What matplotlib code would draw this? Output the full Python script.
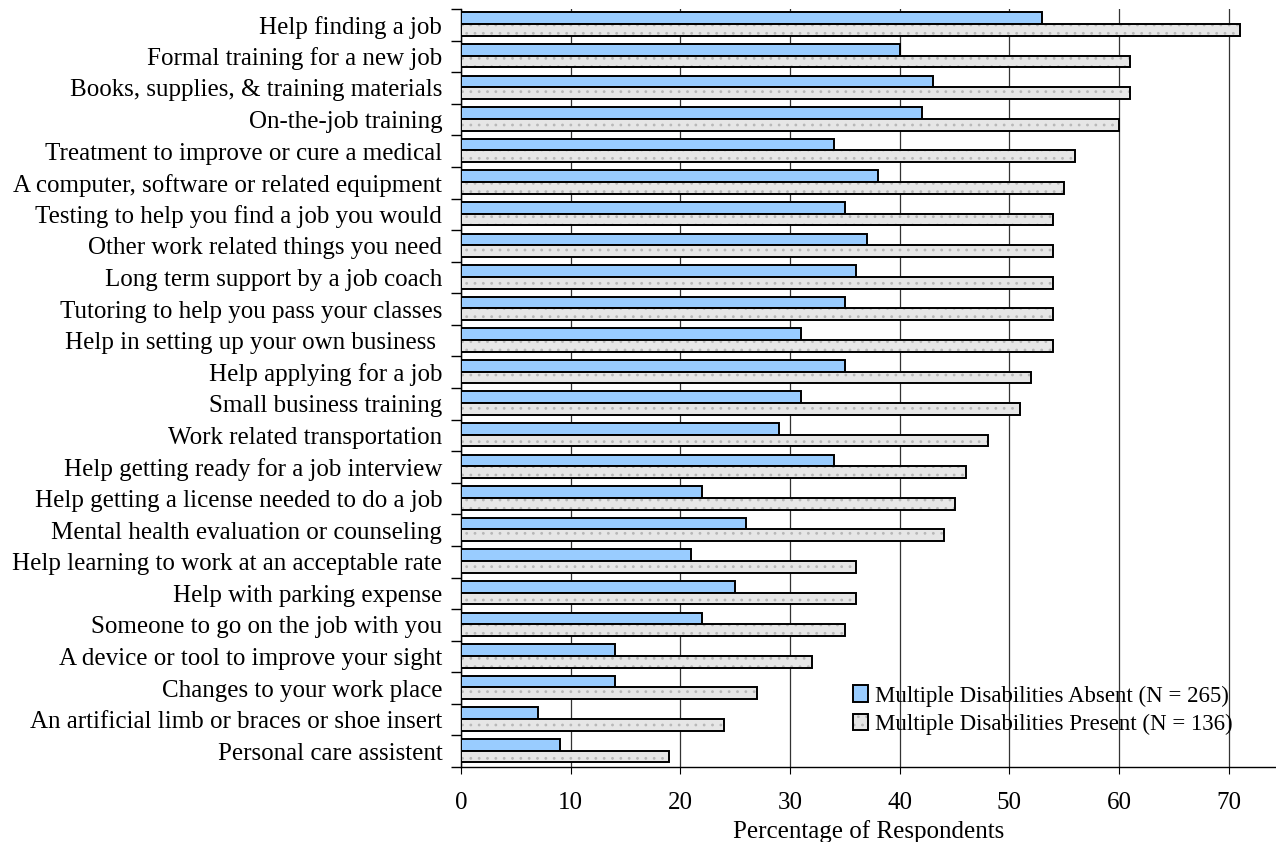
import matplotlib.pyplot as plt
import numpy as np

plt.rcParams['font.family'] = ['Liberation Serif', 'DejaVu Serif']
plt.rcParams['hatch.linewidth'] = 0.8

# services, top to bottom
services = [
    "Help finding a job",
    "Formal training for a new job",
    "Books, supplies, & training materials",
    "On-the-job training",
    "Treatment to improve or cure a medical",
    "A computer, software or related equipment",
    "Testing to help you find a job you would",
    "Other work related things you need",
    "Long term support by a job coach",
    "Tutoring to help you pass your classes",
    "Help in setting up your own business ",
    "Help applying for a job",
    "Small business training",
    "Work related transportation",
    "Help getting ready for a job interview",
    "Help getting a license needed to do a job",
    "Mental health evaluation or counseling",
    "Help learning to work at an acceptable rate",
    "Help with parking expense",
    "Someone to go on the job with you",
    "A device or tool to improve your sight",
    "Changes to your work place",
    "An artificial limb or braces or shoe insert",
    "Personal care assistent",
]
absent = [53, 40, 43, 42, 34, 38, 35, 37, 36, 35, 31, 35, 31, 29, 34, 22, 26, 21, 25, 22, 14, 14, 7, 9]
present = [71, 61, 61, 60, 56, 55, 54, 54, 54, 54, 54, 52, 51, 48, 46, 45, 44, 36, 36, 35, 32, 27, 24, 19]

n = len(services)
y = np.arange(n)
h = 0.37
fs = 18

fig = plt.figure(figsize=(12.76, 8.42), dpi=100)
ax = fig.add_axes([461/1276, 75/842, 815/1276, 758/842])

b1 = ax.barh(y - 0.205, absent, height=h, color='#99ccff', edgecolor='black',
             linewidth=1.4, zorder=3)
# dotted fill first, black outline drawn on top so the dots stay light
b2 = ax.barh(y + 0.165, present, height=h, color='#e6e6e6', edgecolor='#b8b8b8',
             linewidth=0, hatch='..', zorder=3)
b3 = ax.barh(y + 0.165, present, height=h, fill=False, edgecolor='black',
             linewidth=1.4, zorder=4)

ax.set_ylim(n - 0.5, -0.5)
ax.set_xlim(0, 74.3)
ax.set_xticks(range(0, 71, 10))
ax.xaxis.grid(True, color='#333333', linewidth=0.9, zorder=0)

# labels at centres, ticks at category boundaries
ax.set_yticks(y, minor=True)
ax.set_yticklabels(services, minor=True)
ax.set_yticks(np.arange(n + 1) - 0.5)
ax.set_yticklabels([])
ax.tick_params(axis='y', which='minor', length=0, pad=13.5, labelsize=fs)
ax.tick_params(axis='y', which='major', length=7, width=1, direction='out')
ax.tick_params(axis='x', labelsize=fs, length=5, direction='out', pad=13)

for s in ['top', 'right']:
    ax.spines[s].set_visible(False)
ax.spines['left'].set_linewidth(1)
ax.spines['bottom'].set_linewidth(1)

ax.set_xlabel('Percentage of Respondents', fontsize=fs, labelpad=4)
ax.legend([b1, (b2, b3)],
          ['Multiple Disabilities Absent (N = 265)', 'Multiple Disabilities Present (N = 136)'],
          loc='lower right', bbox_to_anchor=(0.972, 0.015), frameon=False, fontsize=16.5,
          handlelength=0.65, handleheight=0.75, handletextpad=0.3, labelspacing=0.3)

fig.savefig('out.png', dpi=100)
